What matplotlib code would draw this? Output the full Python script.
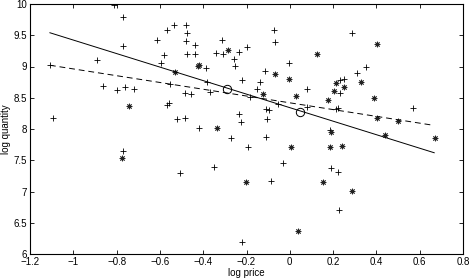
import matplotlib
matplotlib.use("Agg")
import matplotlib.pyplot as plt
import numpy as np

plt.rcParams['font.family'] = ['Liberation Sans', 'DejaVu Sans']

plus_x = [-0.81, -0.77, -0.535, -0.567, -0.613, -0.77, -0.58, -0.89, -0.594, -1.108,
          -0.553, -0.862, -0.798, -0.76, -0.72, -0.558, -0.567, -1.094, -0.52, -0.77,
          -0.507, -0.48, -0.474, -0.48, -0.437, -0.313, -0.073, -0.068, -0.474, -0.44,
          -0.34, -0.31, -0.235, -0.20, -0.257, -0.253, -0.387, -0.004, -0.114, -0.22,
          -0.138, -0.382, 0.08, -0.151, -0.483, -0.456, -0.368, -0.184, -0.055, -0.11,
          -0.096, 0.081, -0.234, -0.105, -0.483, -0.225, -0.42, -0.271, -0.11, -0.193,
          -0.031, -0.35, -0.087, -0.22, 0.288, 0.31, 0.352, 0.231, 0.25, 0.231,
          0.213, 0.222, 0.569, 0.186, 0.19, 0.222, 0.227]
plus_y = [9.99, 9.79, 9.66, 9.58, 9.42, 9.33, 9.18, 9.10, 9.06, 9.02,
          8.72, 8.69, 8.62, 8.67, 8.64, 8.42, 8.38, 8.18, 8.16, 7.65,
          7.30, 9.66, 9.54, 9.41, 9.35, 9.42, 9.58, 9.39, 9.20, 9.20,
          9.22, 9.20, 9.23, 9.31, 9.12, 9.01, 8.98, 9.06, 8.93, 8.79,
          8.75, 8.75, 8.64, 8.64, 8.58, 8.56, 8.60, 8.51, 8.40, 8.32,
          8.30, 8.35, 8.24, 8.16, 8.17, 8.11, 8.01, 7.86, 7.87, 7.71,
          7.46, 7.39, 7.17, 6.19, 9.54, 8.90, 8.99, 8.78, 8.80, 8.58,
          8.32, 8.33, 8.34, 7.99, 7.38, 7.31, 6.70]

star_x = [-0.53, -0.742, -0.775, -0.286, -0.424, -0.418, -0.068, -0.004, -0.123, 0.029,
          -0.336, 0.006, -0.203, 0.038, 0.403, 0.126, 0.329, 0.213, 0.25, 0.204,
          0.176, 0.389, 0.403, 0.50, 0.19, 0.44, 0.671, 0.186, 0.24, 0.154, 0.288]
star_y = [8.91, 8.37, 7.54, 9.26, 9.01, 9.03, 8.88, 8.80, 8.56, 8.53,
          8.02, 7.71, 7.15, 6.37, 9.36, 9.20, 8.75, 8.74, 8.67, 8.61,
          8.46, 8.50, 8.17, 8.13, 7.95, 7.90, 7.85, 7.71, 7.73, 7.15, 7.01]

solid_x = [-1.108, 0.667]
solid_y = [9.54, 7.62]
dashed_x = [-1.108, 0.662]
dashed_y = [9.02, 8.06]
circle_x = [-0.289, 0.047]
circle_y = [8.64, 8.27]

xticks = [-1.2, -1, -0.8, -0.6, -0.4, -0.2, 0, 0.2, 0.4, 0.6, 0.8]
xticklabels = ['\u22121.2', '\u22121', '\u22120.8', '\u22120.6', '\u22120.4', '\u22120.2', '0', '0.2', '0.4', '0.6', '0.8']
yticks = [6, 6.5, 7, 7.5, 8, 8.5, 9, 9.5, 10]
yticklabels = ['6', '6.5', '7', '7.5', '8', '8.5', '9', '9.5', '10']

fig = plt.figure(figsize=(4.71, 2.80), dpi=100)
ax = fig.add_axes([30/471, 26/280, 433/471, 250/280])

ax.plot(plus_x, plus_y, linestyle='none', marker='+', color='black', markersize=5, markeredgewidth=0.6)
ax.plot(star_x, star_y, linestyle='none', marker=(8, 2, 0), color='#222222', markersize=4, markeredgewidth=0.6)
ax.plot(solid_x, solid_y, '-', color='black', linewidth=0.7)
ax.plot(dashed_x, dashed_y, '--', color='black', linewidth=0.7, dashes=(6, 4))
ax.plot(circle_x, circle_y, linestyle='none', marker='o', markerfacecolor='none', markeredgecolor='black', markersize=6, markeredgewidth=0.7)

ax.set_xlim(-1.2, 0.8)
ax.set_ylim(6, 10)
ax.set_xticks(xticks)
ax.set_xticklabels(xticklabels)
ax.set_yticks(yticks)
ax.set_yticklabels(yticklabels)
ax.tick_params(direction='in', top=True, right=True, length=3, width=0.6, labelsize=7, pad=2)
for s in ax.spines.values():
    s.set_linewidth(0.8)
ax.set_xlabel('log price', fontsize=7, labelpad=1)
ax.set_ylabel('log quantity', fontsize=7, labelpad=2)

fig.savefig('out.png', dpi=100)
